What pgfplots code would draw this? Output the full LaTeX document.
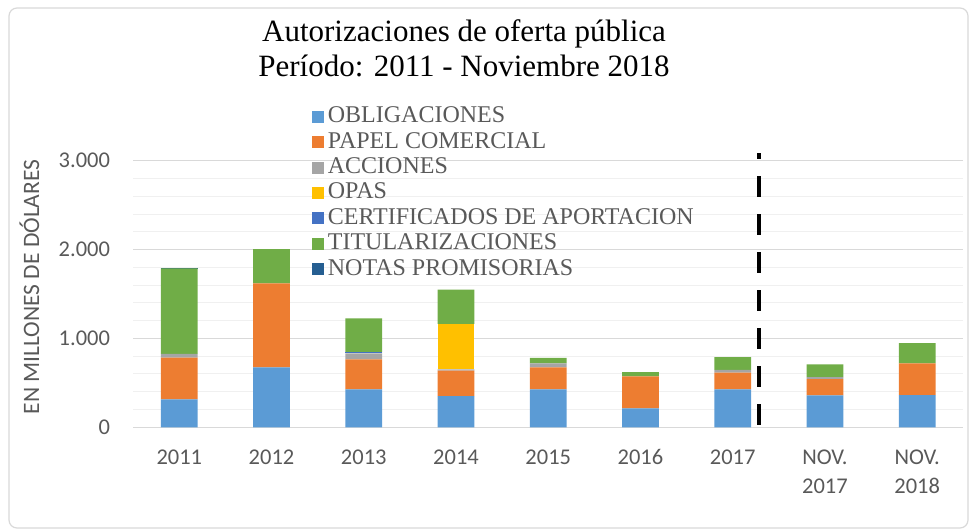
\documentclass[border=0pt]{standalone}
\usepackage{pgfplots}
\pgfplotsset{compat=1.18}
\usepackage{pgfplotstable}
\usepackage{fontspec}
\setmainfont{Liberation Serif}
\newfontfamily\carlito{Carlito}
\definecolor{cObl}{HTML}{5B9BD5}
\definecolor{cPap}{HTML}{ED7D31}
\definecolor{cAcc}{HTML}{A5A5A5}
\definecolor{cOpa}{HTML}{FFC000}
\definecolor{cCer}{HTML}{4472C4}
\definecolor{cTit}{HTML}{70AD47}
\definecolor{cNot}{HTML}{255E91}
\definecolor{txt}{HTML}{595959}
\definecolor{gmaj}{HTML}{D9D9D9}
\definecolor{gmin}{HTML}{F0F0F0}

\pgfplotstableread{
x O P A OP C T N
0 315 468 42 0 0 964 8
1 675 945 0 0 0 386 0
2 427 338 67 0 10 384 0
3 352 285 15 513 0 383 0
4 427 248 45 0 0 60 0
5 214 360 0 0 0 48 0
6 427 187 31 0 0 146 0
7 360 183 23 0 0 143 0
8 363 357 0 0 0 228 0
}\datatable

\begin{document}
\begin{tikzpicture}[x=1pt,y=1pt]
\path[use as bounding box] (0,0) rectangle (974,531);
\draw[gmaj, line width=1.2pt, rounded corners=8pt] (9,3) rectangle (968,523);
\node[anchor=base, inner sep=0pt, font=\fontsize{31}{35}\selectfont] at (464,489) {Autorizaciones de oferta pública};
\node[anchor=base, inner sep=0pt, font=\fontsize{31}{35}\selectfont] at (464,454) {Período: 2011 - Noviembre 2018};
\node[rotate=90, inner sep=0pt, text=txt, font=\carlito\fontsize{23.5}{28}\selectfont] at (29.5,244) {EN MILLONES DE DÓLARES};

\begin{axis}[
  at={(133.2pt,103.7pt)}, anchor=south west,
  scale only axis, width=830.1pt, height=266.6pt,
  xmin=-0.5, xmax=8.5, ymin=0, ymax=3000,
  ybar stacked, bar width=36.7pt,
  xtick={0,1,2,3,4,5,6,7,8},
  xticklabels={2011,2012,2013,2014,2015,2016,2017,{NOV.\\2017},{NOV.\\2018}},
  ytick={0,1000,2000,3000}, yticklabels={0,{1.000},{2.000},{3.000}},
  minor y tick num=4,
  ymajorgrids, yminorgrids,
  major grid style={gmaj, line width=1pt},
  minor grid style={gmin, line width=1pt},
  axis line style={draw=none},
  major tick length=0pt, minor tick length=0pt,
  tick style={draw=none},
  xticklabel style={font=\carlito\fontsize{22.5}{29.5}\selectfont, text=txt, align=center, anchor=north, inner sep=0pt, yshift=-22pt},
  yticklabel style={font=\carlito\fontsize{22.5}{27}\selectfont, text=txt, anchor=east, inner sep=0pt, xshift=-23pt},
  legend style={at={(0.215,1.207)}, anchor=north west, draw=none, fill=none,
    font=\fontsize{24}{25}\selectfont, text=txt, inner sep=0pt, row sep=3.4pt, column sep=4pt,
    nodes={inner sep=0pt, text height=17pt, text depth=5pt}},
  legend cell align=left,
  legend image code/.code={\fill[#1] (0pt,-6pt) rectangle (12pt,6pt);},
]
\addplot[fill=cObl, draw=none] table[x=x,y=O]{\datatable};
\addlegendentry{OBLIGACIONES}
\addplot[fill=cPap, draw=none] table[x=x,y=P]{\datatable};
\addlegendentry{PAPEL COMERCIAL}
\addplot[fill=cAcc, draw=none] table[x=x,y=A]{\datatable};
\addlegendentry{ACCIONES}
\addplot[fill=cOpa, draw=none] table[x=x,y=OP]{\datatable};
\addlegendentry{OPAS}
\addplot[fill=cCer, draw=none] table[x=x,y=C]{\datatable};
\addlegendentry{CERTIFICADOS DE APORTACION}
\addplot[fill=cTit, draw=none] table[x=x,y=T]{\datatable};
\addlegendentry{TITULARIZACIONES}
\addplot[fill=cNot, draw=none] table[x=x,y=N]{\datatable};
\addlegendentry{NOTAS PROMISORIAS}
\end{axis}

\begin{axis}[
  at={(133.2pt,103.7pt)}, anchor=south west,
  scale only axis, width=830.1pt, height=266.6pt,
  xmin=-0.5, xmax=8.5, ymin=0, ymax=3000,
  hide axis, clip=false,
]
\addplot[black, line width=4pt, dash pattern=on 21pt off 17pt] coordinates {(6.28,26) (6.28,3085)};
\end{axis}
\end{tikzpicture}
\end{document}
